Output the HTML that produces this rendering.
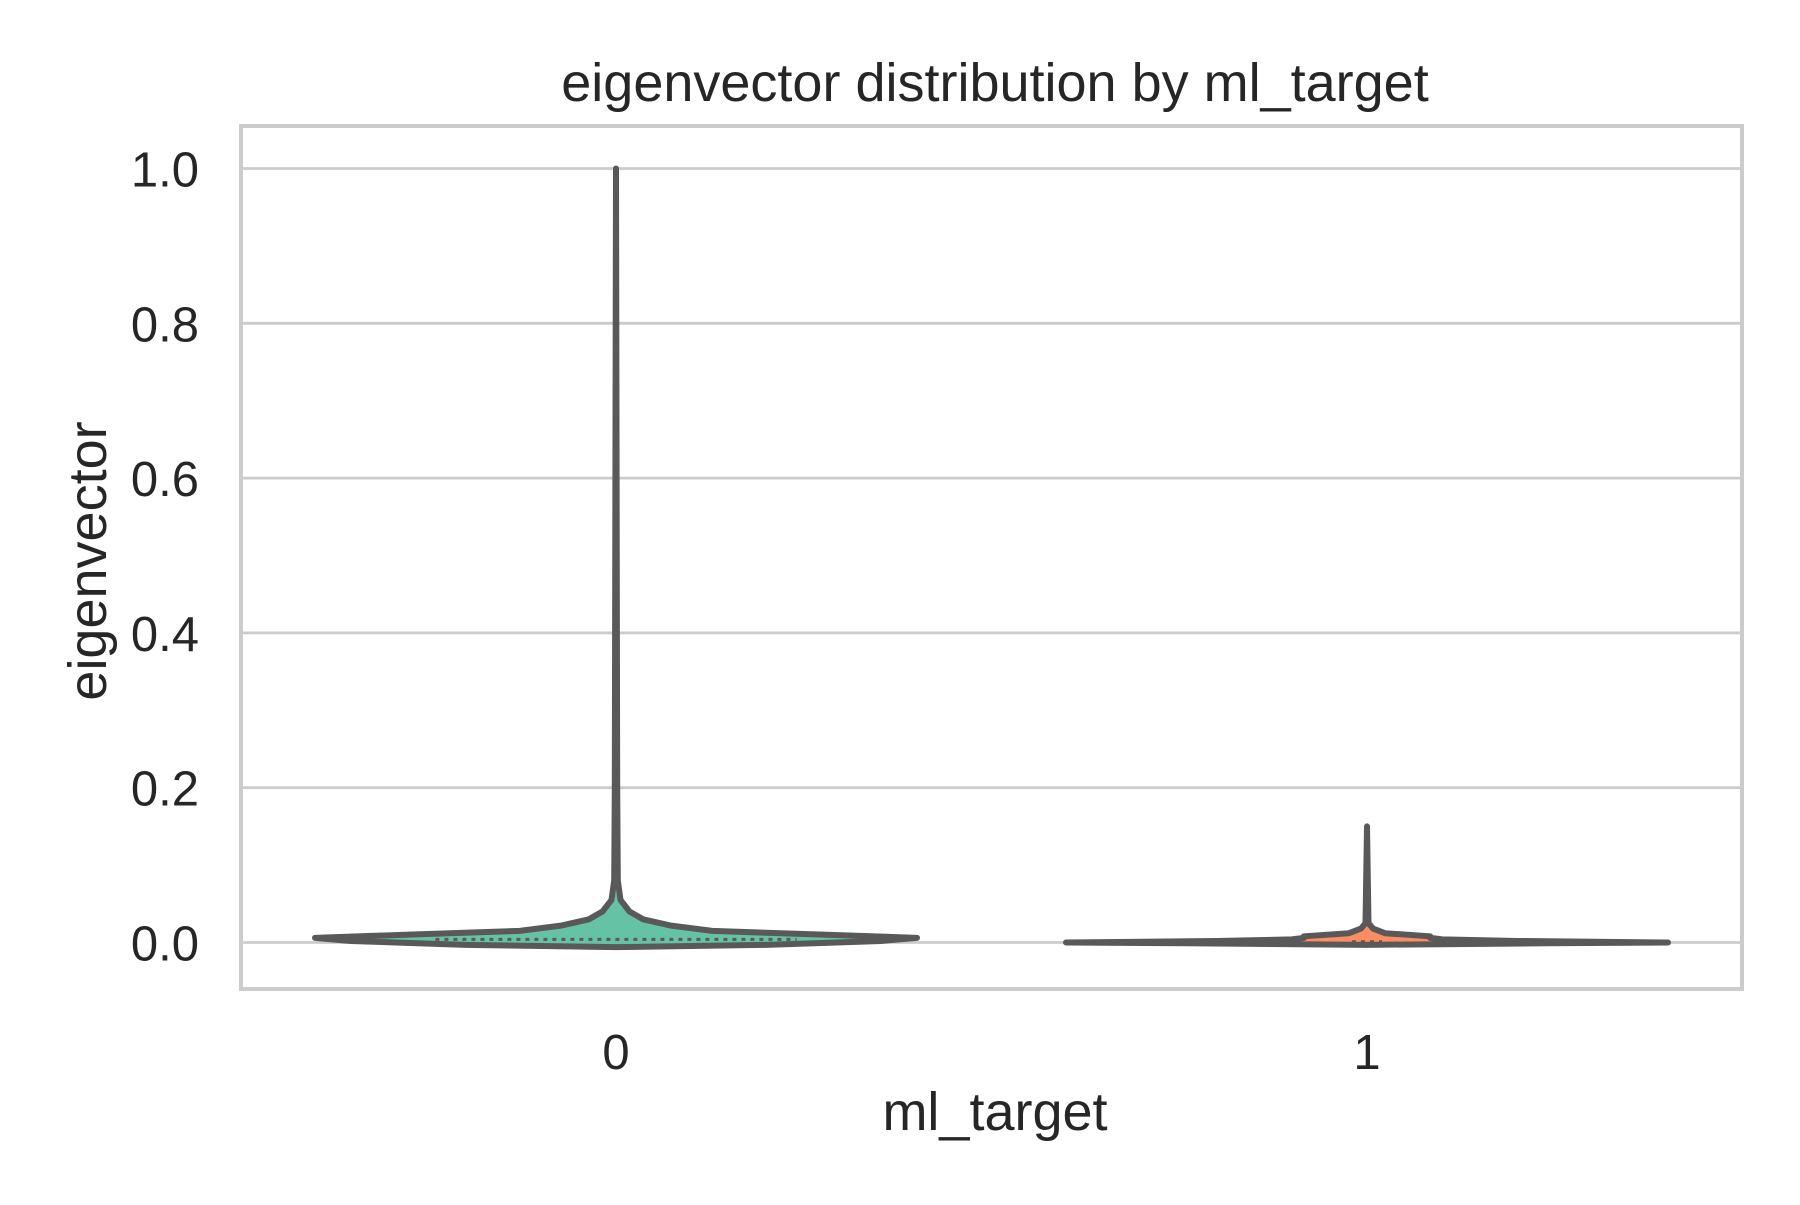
<!DOCTYPE html>
<html><head><meta charset="utf-8"><style>
html,body{margin:0;padding:0;background:#fff;}
svg text{font-family:"Liberation Sans",Arial,sans-serif;fill:#262626;}
</style></head><body>
<svg id="chart" width="1800" height="1200" viewBox="0 0 1800 1200" xmlns="http://www.w3.org/2000/svg">
<rect width="1800" height="1200" fill="#fff"/>
<g id="grid"></g>
<rect x="241" y="126" width="1501" height="863" fill="none" stroke="#cccccc" stroke-width="4"/>
<g id="violins"></g>
<g id="yticks"></g>
<g id="xticks"></g>
<text x="995" y="101" font-size="54" text-anchor="middle">eigenvector distribution by ml_target</text>
<text x="995" y="1130" font-size="54" text-anchor="middle">ml_target</text>
<text transform="translate(106,561) rotate(-90)" font-size="54" text-anchor="middle">eigenvector</text>
</svg>
<script>
const categories = ['0', '1'];
const yTickValues = [0.0, 0.2, 0.4, 0.6, 0.8, 1.0];
const yTickLabels = ['0.0', '0.2', '0.4', '0.6', '0.8', '1.0'];
// violin profiles: data y values and relative half-widths
const violin0Y = [-0.006, -0.003, 0.002, 0.006, 0.010, 0.015, 0.022, 0.030, 0.040, 0.055, 0.08, 0.2, 1.0];
const violin0W = [0, 0.5, 0.88, 1.0, 0.7, 0.32, 0.18, 0.09, 0.045, 0.015, 0.006, 0.004, 0];
const violin1Y = [-0.003, -0.001, 0.0, 0.002, 0.004, 0.006, 0.008, 0.012, 0.018, 0.025, 0.15];
const violin1W = [0, 0.6, 1.0, 0.5, 0.25, 0.21, 0.21, 0.06, 0.02, 0.005, 0];
const fills = ['#66c2a5', '#fc8d62'];

const NS = 'http://www.w3.org/2000/svg';
const y0px = 942.5, perUnit = (942.5 - 168.5) / 1.0;
function yScale(v) { return y0px - v * perUnit; }
const xCenters0 = 616, xStep = 1367 - 616;
function xScale(i) { return xCenters0 + i * xStep; }
const halfW = 301;

const grid = document.getElementById('grid');
const yt = document.getElementById('yticks');
yTickValues.forEach((v, i) => {
  const l = document.createElementNS(NS, 'line');
  l.setAttribute('x1', 241); l.setAttribute('x2', 1742);
  l.setAttribute('y1', yScale(v)); l.setAttribute('y2', yScale(v));
  l.setAttribute('stroke', '#cccccc'); l.setAttribute('stroke-width', 2.8);
  
  
  grid.appendChild(l);
  const t = document.createElementNS(NS, 'text');
  t.setAttribute('x', 199); t.setAttribute('y', yScale(v) + 18);
  t.setAttribute('font-size', 49); t.setAttribute('text-anchor', 'end');
  t.textContent = yTickLabels[i];
  
  
  yt.appendChild(t);
});
const xt = document.getElementById('xticks');
categories.forEach((c, i) => {
  const t = document.createElementNS(NS, 'text');
  t.setAttribute('x', xScale(i)); t.setAttribute('y', 1069);
  t.setAttribute('font-size', 49); t.setAttribute('text-anchor', 'middle');
  t.textContent = c;
  
  
  xt.appendChild(t);
});

const vg = document.getElementById('violins');
[[violin0Y, violin0W], [violin1Y, violin1W]].forEach((vw, i) => {
  const ys = vw[0], ws = vw[1], cx = xScale(i);
  let right = [], left = [];
  for (let k = 0; k < ys.length; k++) {
    const w = Math.max(ws[k] * halfW, 0);
    right.push((cx + w) + ',' + yScale(ys[k]));
    left.unshift((cx - w) + ',' + yScale(ys[k]));
  }
  const p = document.createElementNS(NS, 'polygon');
  p.setAttribute('points', right.concat(left).join(' '));
  p.setAttribute('fill', fills[i]);
  p.setAttribute('stroke', '#595959'); p.setAttribute('stroke-width', 6);
  p.setAttribute('stroke-linejoin', 'round');
  
  
  vg.appendChild(p);
  const ln = document.createElementNS(NS, 'line');
  const ww = (i === 0 ? 0.6 : 0.05) * halfW;
  ln.setAttribute('x1', cx - ww); ln.setAttribute('x2', cx + ww);
  ln.setAttribute('y1', yScale(i === 0 ? 0.004 : 0.001)); ln.setAttribute('y2', yScale(i === 0 ? 0.004 : 0.001));
  ln.setAttribute('stroke', '#595959'); ln.setAttribute('stroke-width', 3);
  ln.setAttribute('stroke-dasharray', '4 5');
  
  
  vg.appendChild(ln);
});
</script>
</body></html>
